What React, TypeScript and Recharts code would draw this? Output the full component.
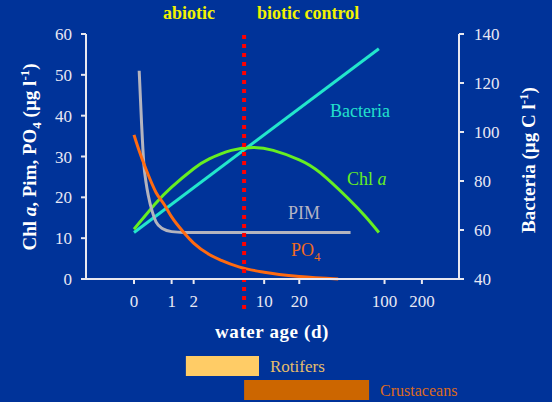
import React from 'react';
import {
  ComposedChart,
  Line,
  XAxis,
  YAxis,
  ReferenceLine,
  Bar,
  Cell,
  LabelList,
} from 'recharts';

// water age (d) -> axis position, the original x axis is log(age + 1)
const toT = (age: number) => Math.log10(age + 1);

const xTickAges = [0, 1, 2, 10, 20, 100, 200];
const leftTicks = [0, 10, 20, 30, 40, 50, 60];
const rightTicks = [40, 60, 80, 100, 120, 140];

const bacteriaAge = [0, 90];
const bacteriaVal = [59, 134];

const chlAge = [0, 0.5, 1, 2, 3, 5, 8, 12, 20, 30, 50, 70, 90];
const chlVal = [12.2, 18.6, 22.5, 27, 29.4, 31.5, 32.2, 31.5, 29.2, 26, 19.9, 15.3, 11.4];

const pimAge = [0.1, 0.15, 0.2, 0.25, 0.3, 0.4, 0.5, 0.7, 1, 1.5, 53];
const pimVal = [51, 38, 28, 23.5, 20.5, 16.5, 14, 12.3, 11.6, 11.4, 11.4];

const po4Age = [0, 0.1, 0.25, 0.5, 0.75, 1, 1.5, 2, 3, 4, 6, 10, 20, 42];
const po4Val = [35.3, 31.4, 26.8, 21.2, 18.2, 15.2, 11.4, 8.8, 6, 4.55, 2.9, 1.65, 0.6, 0];

const controlAge = 6.6;

const zooNames = ['Rotifers', 'Crustaceans'];
const zooStart = [1.6, 6.6];
const zooEnd = [9, 75];
const zooFill = ['#ffcc66', '#cc6600'];
const zooText = ['#e6bd6a', '#dc6a1c'];

const toRows = (ages: number[], vals: number[]) => ages.map((a, i) => ({ t: toT(a), v: vals[i] }));

const bacteriaData = toRows(bacteriaAge, bacteriaVal);
const chlData = toRows(chlAge, chlVal);
const pimData = toRows(pimAge, pimVal);
const po4Data = toRows(po4Age, po4Val);
const zooData = zooNames.map((name, i) => ({ name, range: [toT(zooStart[i]), toT(zooEnd[i])] }));

const BG = '#003399';
const AXIS = '#e8e8f0';
const SERIF = "'Liberation Serif', 'Times New Roman', Times, serif";
const X_DOMAIN: [number, number] = [-0.384, 2.6];

const tickStyle = { fill: '#e8e8f4', fontSize: 17 };

const DottedControl = (p: any) => {
  const top = Math.min(p.y1, p.y2);
  const bottom = Math.max(p.y1, p.y2);
  return (
    <line x1={p.x1} x2={p.x2} y1={top + 1} y2={bottom + 31} stroke="#ff0000" strokeWidth={4} strokeDasharray="4 5" />
  );
};

const ZooLabel = (p: any) => (
  <text
    x={p.x + p.width + 11}
    y={p.y + p.height / 2}
    dominantBaseline="central"
    fill={zooText[p.index]}
    fontSize={p.index === 0 ? 17 : 16}
    style={{ fontFamily: SERIF }}
  >
    {p.value}
  </text>
);

export default function App() {
  return (
    <div
      style={{
        position: 'absolute',
        left: 0,
        top: 0,
        width: 552,
        height: 402,
        background: BG,
        overflow: 'hidden',
        fontFamily: SERIF,
      }}
    >
      <ComposedChart width={552} height={402} margin={{ top: 34, right: 43, bottom: 93, left: 36 }}>
        <XAxis
          dataKey="t"
          type="number"
          domain={X_DOMAIN}
          ticks={xTickAges.map(toT)}
          tickFormatter={(t: number) => String(Math.round(Math.pow(10, t) - 1))}
          height={30}
          stroke={AXIS}
          strokeWidth={2}
          tickSize={5}
          tickMargin={11}
          tick={tickStyle}
          allowDataOverflow
        />
        <XAxis
          xAxisId="top"
          orientation="top"
          type="number"
          domain={X_DOMAIN}
          height={0}
          tick={false}
          tickLine={false}
          stroke="#c8c8d8"
          strokeWidth={2}
        />
        <YAxis
          yAxisId="left"
          domain={[0, 60]}
          ticks={leftTicks}
          width={50}
          stroke={AXIS}
          strokeWidth={2}
          tickSize={5}
          tickMargin={9}
          tick={tickStyle}
        />
        <YAxis
          yAxisId="right"
          orientation="right"
          domain={[40, 140]}
          ticks={rightTicks}
          width={50}
          stroke={AXIS}
          strokeWidth={2}
          tickSize={5}
          tickMargin={10}
          tick={tickStyle}
        />
        <Line data={bacteriaData} dataKey="v" yAxisId="right" type="linear" stroke="#22e6cc" strokeWidth={3} dot={false} isAnimationActive={false} />
        <Line data={chlData} dataKey="v" yAxisId="left" type="natural" stroke="#66ee22" strokeWidth={3} dot={false} isAnimationActive={false} />
        <Line data={pimData} dataKey="v" yAxisId="left" type="monotone" stroke="#b4b4be" strokeWidth={3} dot={false} isAnimationActive={false} />
        <Line data={po4Data} dataKey="v" yAxisId="left" type="monotone" stroke="#ff6a10" strokeWidth={3} dot={false} isAnimationActive={false} />
        <ReferenceLine x={toT(controlAge)} yAxisId="left" shape={DottedControl} />
      </ComposedChart>

      <div style={{ position: 'absolute', left: 0, top: 354, width: 552, height: 48 }}>
        <ComposedChart width={552} height={48} layout="vertical" data={zooData} margin={{ top: 0, right: 93, bottom: 0, left: 86 }}>
          <XAxis type="number" domain={X_DOMAIN} hide />
          <YAxis type="category" dataKey="name" hide width={0} />
          <Bar dataKey="range" barSize={20} isAnimationActive={false}>
            {zooData.map((d, i) => (
              <Cell key={d.name} fill={zooFill[i]} />
            ))}
            <LabelList dataKey="name" content={ZooLabel} />
          </Bar>
        </ComposedChart>
      </div>

      <svg width={552} height={402} style={{ position: 'absolute', left: 0, top: 0, pointerEvents: 'none', fontFamily: SERIF }}>
        <g fontWeight="bold" fontSize={18} fill="#f2f200">
          <text x={163} y={19}>abiotic</text>
          <text x={257} y={19}>biotic control</text>
        </g>
        <g fontWeight="bold" fontSize={19} fill="#ffffff" textAnchor="middle">
          <text transform="rotate(-90 36 157)" x={36} y={157}>
            Chl <tspan fontStyle="italic">a</tspan>, Pim, PO<tspan dy={5} fontSize={13}>4</tspan>
            <tspan dy={-5}> (µg l</tspan>
            <tspan dy={-7} fontSize={13}>-1</tspan>
            <tspan dy={7}>)</tspan>
          </text>
          <text transform="rotate(-90 535 160)" x={535} y={160}>
            Bacteria (µg C l<tspan dy={-7} fontSize={13}>-1</tspan>
            <tspan dy={7}>)</tspan>
          </text>
          <text x={272} y={338} letterSpacing={0.6}>water age (d)</text>
        </g>
        <g fontSize={18}>
          <text x={330} y={117} fill="#22e0cc">Bacteria</text>
          <text x={347} y={185} fill="#66ee22">
            Chl <tspan fontStyle="italic">a</tspan>
          </text>
          <text x={288} y={219} fill="#b4b4c4">PIM</text>
          <text x={291} y={256} fill="#f06a1e">
            PO<tspan dy={5} fontSize={13}>4</tspan>
          </text>
        </g>
      </svg>
    </div>
  );
}
